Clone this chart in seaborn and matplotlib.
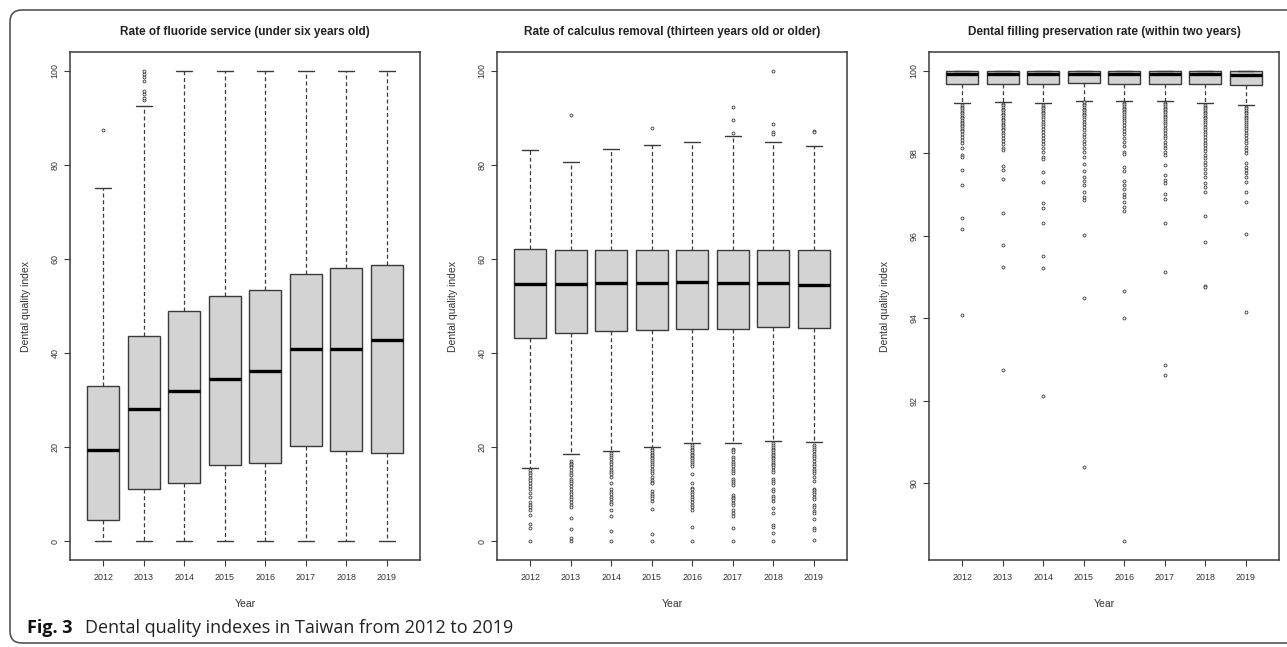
import numpy as np
import pandas as pd
import matplotlib
matplotlib.use("Agg")
import matplotlib.pyplot as plt
import seaborn as sns
from matplotlib.patches import FancyBboxPatch
from matplotlib.transforms import IdentityTransform

# ---------------- data ----------------
years = ["2012", "2013", "2014", "2015", "2016", "2017", "2018", "2019"]

fluoride_title = "Rate of fluoride service (under six years old)"
fluoride_whislo = [0, 0, 0, 0, 0, 0, 0, 0]
fluoride_q1 = [4.6, 11.1, 12.4, 16.2, 16.7, 20.3, 19.1, 18.8]
fluoride_med = [19.3, 28.1, 31.9, 34.5, 36.1, 40.9, 40.9, 42.8]
fluoride_q3 = [33.0, 43.7, 48.9, 52.1, 53.5, 56.8, 58.0, 58.8]
fluoride_whishi = [75.1, 92.6, 100, 100, 100, 100, 100, 100]
fluoride_outliers = [
    [87.5],
    [93.8, 94.3, 95.0, 95.7, 97.9, 98.6, 99.3, 100.0],
    [], [], [], [], [], [],
]

calculus_title = "Rate of calculus removal (thirteen years old or older)"
calculus_whislo = [15.6, 18.6, 19.2, 20.0, 20.8, 20.8, 21.3, 21.0]
calculus_q1 = [43.3, 44.3, 44.7, 45.0, 45.2, 45.2, 45.6, 45.4]
calculus_med = [54.7, 54.6, 54.9, 54.8, 55.1, 54.8, 54.8, 54.5]
calculus_q3 = [62.1, 62.0, 62.0, 62.0, 61.8, 61.8, 62.0, 61.8]
calculus_whishi = [83.1, 80.6, 83.3, 84.2, 84.9, 86.1, 84.9, 84.1]
calculus_outliers = [
    [15.1, 14.6, 14.0, 13.5, 13.0, 12.4, 11.8, 11.2, 10.2, 9.4, 8.3, 7.7, 7.2,
     6.6, 5.5, 3.6, 2.9, 0.0],
    [90.7, 17.1, 16.7, 16.4, 16.0, 15.7, 15.1, 14.5, 14.0, 13.3, 12.8, 12.3,
     11.7, 11.0, 10.5, 10.0, 9.4, 8.9, 8.3, 7.7, 7.2, 5.0, 2.5, 0.6, 0.0],
    [18.8, 18.3, 17.8, 17.4, 16.9, 16.4, 15.8, 15.2, 14.7, 14.2, 13.7, 12.3,
     11.0, 10.5, 10.0, 9.4, 8.9, 8.4, 7.9, 6.6, 5.3, 2.2, 0.0],
    [87.8, 19.7, 19.3, 19.0, 18.6, 18.3, 17.9, 17.6, 17.2, 16.9, 16.5, 15.9,
     15.4, 14.9, 14.4, 13.7, 13.1, 12.6, 12.3, 10.6, 10.1, 9.6, 9.1, 8.6, 6.8,
     1.6, 0.0],
    [20.4, 20.1, 19.7, 19.3, 19.0, 18.6, 18.3, 17.9, 17.6, 17.2, 16.9, 16.5,
     15.9, 14.2, 12.3, 11.4, 11.0, 10.5, 10.0, 9.4, 8.9, 8.4, 7.7, 7.2, 6.7,
     3.0, 0.0],
    [92.3, 89.5, 86.8, 19.7, 19.3, 19.0, 17.9, 17.4, 16.9, 16.5, 15.9, 15.4,
     14.9, 14.5, 13.3, 12.8, 12.4, 11.9, 9.8, 9.4, 9.1, 8.7, 8.1, 7.7, 6.6,
     5.9, 5.3, 2.9, 0.0],
    [100.0, 88.6, 87.0, 86.6, 20.8, 20.4, 20.1, 19.7, 19.3, 19.0, 18.6, 18.3,
     17.9, 17.6, 17.2, 16.9, 16.5, 16.2, 15.7, 15.1, 14.7, 13.3, 12.8, 12.3,
     11.0, 10.7, 9.6, 9.1, 8.6, 7.0, 5.9, 3.4, 3.1, 1.8, 0.0],
    [87.2, 86.9, 20.4, 20.1, 19.7, 19.2, 18.6, 18.1, 17.6, 17.1, 16.5, 15.9,
     15.4, 14.9, 14.4, 13.7, 12.8, 11.2, 10.8, 10.5, 10.0, 9.4, 8.9, 7.7, 7.2,
     6.4, 5.9, 4.8, 2.7, 2.3, 0.2],
]

filling_title = "Dental filling preservation rate (within two years)"
filling_whislo = [99.21, 99.24, 99.21, 99.28, 99.27, 99.27, 99.21, 99.17]
filling_q1 = [99.68, 99.68, 99.68, 99.71, 99.69, 99.69, 99.68, 99.65]
filling_med = [99.93, 99.93, 99.93, 99.93, 99.93, 99.93, 99.93, 99.91]
filling_q3 = [100.0, 100.0, 100.0, 100.0, 100.0, 100.0, 100.0, 100.0]
filling_whishi = [100.0, 100.0, 100.0, 100.0, 100.0, 100.0, 100.0, 100.0]
filling_outliers = [
    [99.17, 99.13, 99.09, 99.05, 99.01, 98.97, 98.93, 98.89, 98.85, 98.81,
     98.77, 98.73, 98.69, 98.65, 98.61, 98.57, 98.53, 98.48, 98.40, 98.32,
     98.24, 98.14, 97.96, 97.92, 97.60, 97.23, 96.43, 96.17, 94.08],
    [99.20, 99.16, 99.12, 99.08, 99.04, 99.00, 98.96, 98.92, 98.88, 98.84,
     98.80, 98.76, 98.72, 98.68, 98.64, 98.60, 98.56, 98.50, 98.44, 98.38,
     98.30, 98.22, 98.14, 98.08, 97.69, 97.59, 97.37, 96.56, 95.78, 95.25,
     92.75],
    [99.17, 99.13, 99.09, 99.05, 99.01, 98.97, 98.93, 98.88, 98.83, 98.77,
     98.72, 98.66, 98.60, 98.52, 98.45, 98.38, 98.30, 98.22, 98.12, 98.02,
     97.92, 97.85, 97.55, 97.31, 96.80, 96.68, 96.30, 95.52, 95.22, 92.12],
    [99.24, 99.20, 99.16, 99.12, 99.08, 99.04, 99.00, 98.96, 98.92, 98.87,
     98.82, 98.76, 98.70, 98.63, 98.56, 98.48, 98.40, 98.31, 98.22, 98.12,
     98.02, 97.92, 97.74, 97.58, 97.43, 97.34, 97.22, 97.07, 96.93, 96.87,
     96.02, 94.49, 90.39],
    [99.23, 99.19, 99.15, 99.11, 99.07, 99.03, 98.99, 98.95, 98.91, 98.86,
     98.81, 98.75, 98.69, 98.62, 98.55, 98.47, 98.38, 98.28, 98.18, 98.04,
     97.98, 97.68, 97.58, 97.33, 97.23, 97.13, 97.02, 96.93, 96.83, 96.71,
     96.59, 94.65, 94.00, 88.61],
    [99.23, 99.19, 99.15, 99.11, 99.07, 99.03, 98.99, 98.95, 98.91, 98.87,
     98.83, 98.78, 98.73, 98.68, 98.62, 98.56, 98.50, 98.43, 98.36, 98.28,
     98.20, 98.12, 98.04, 97.95, 97.72, 97.47, 97.35, 97.27, 97.01, 96.89,
     96.30, 95.13, 92.86, 92.63],
    [99.17, 99.13, 99.09, 99.05, 99.01, 98.97, 98.93, 98.89, 98.85, 98.80,
     98.75, 98.70, 98.64, 98.58, 98.52, 98.46, 98.40, 98.33, 98.26, 98.19,
     98.12, 98.05, 97.97, 97.89, 97.80, 97.71, 97.62, 97.52, 97.42, 97.29,
     97.18, 97.05, 96.47, 95.84, 94.79, 94.76],
    [99.13, 99.09, 99.05, 99.01, 98.97, 98.93, 98.89, 98.85, 98.81, 98.77,
     98.72, 98.67, 98.62, 98.56, 98.50, 98.44, 98.38, 98.31, 98.24, 98.16,
     98.08, 98.00, 97.76, 97.68, 97.60, 97.52, 97.43, 97.31, 97.07, 96.83,
     96.05, 94.15],
]

caption_bold = "Fig. 3"
caption_text = "Dental quality indexes in Taiwan from 2012 to 2019"
x_label = "Year"
y_label = "Dental quality index"

# ---------------- styling ----------------
sns.set_style("ticks")
plt.rcParams["font.family"] = ["Liberation Sans", "DejaVu Sans"]

W, H = 1287, 647
fig = plt.figure(figsize=(W / 100, H / 100), dpi=100)
fig.patch.set_facecolor("white")

EDGE = "#3a3a3a"
TXT = "#333333"


def px_axes(left, right, top, bottom):
    return fig.add_axes([left / W, 1 - bottom / H, (right - left) / W, (bottom - top) / H])


def draw_panel(ax, title, whislo, q1, med, q3, whishi, outliers, ylim, yticks):
    summary = pd.DataFrame({
        "year": np.repeat(years, 5),
        "value": np.column_stack([whislo, q1, med, q3, whishi]).ravel(),
    })
    sns.boxplot(data=summary, x="year", y="value", order=years, whis=(0, 100),
                showfliers=False, width=0.8, color="#d3d3d3", saturation=1,
                linecolor=EDGE, linewidth=1.0,
                medianprops=dict(color="black", linewidth=2.4),
                whiskerprops=dict(linestyle=(0, (3.2, 2.2)), color=EDGE, linewidth=0.9),
                capprops=dict(color=EDGE, linewidth=1.0),
                ax=ax)
    out_df = pd.DataFrame({
        "year": [y for y, vals in zip(years, outliers) for _ in vals],
        "value": [v for vals in outliers for v in vals],
    })
    sns.stripplot(data=out_df, x="year", y="value", order=years, jitter=False,
                  size=2.1, color="white", edgecolor="#3a3a3a", linewidth=0.6,
                  ax=ax, zorder=3)
    ax.set_xlim(-0.82, 7.82)
    ax.set_ylim(*ylim)
    ax.set_yticks(yticks)
    ax.set_yticklabels([f"{t:g}" for t in yticks])
    for lab in ax.get_yticklabels():
        lab.set_rotation(90)
        lab.set_va("center")
    for sp in ax.spines.values():
        sp.set_visible(True)
        sp.set_color(EDGE)
        sp.set_linewidth(1.1)
    ax.tick_params(axis="both", direction="out", length=4.5, width=0.8,
                   colors=EDGE, labelcolor=TXT, labelsize=6.4)
    ax.tick_params(axis="x", pad=5)
    ax.tick_params(axis="y", pad=3)
    ax.set_xlabel(x_label, fontsize=7.5, color=TXT, labelpad=12)
    ax.set_ylabel(y_label, fontsize=7.5, color=TXT, labelpad=14)
    ax.set_title(title, fontsize=8.5, fontweight="bold", color="#222222", pad=12)
    ax.grid(False)


ax1 = px_axes(70, 420, 52, 560)
draw_panel(ax1, fluoride_title, fluoride_whislo, fluoride_q1, fluoride_med,
           fluoride_q3, fluoride_whishi, fluoride_outliers, (-4, 104),
           [0, 20, 40, 60, 80, 100])

ax2 = px_axes(497, 847, 52, 560)
draw_panel(ax2, calculus_title, calculus_whislo, calculus_q1, calculus_med,
           calculus_q3, calculus_whishi, calculus_outliers, (-4, 104),
           [0, 20, 40, 60, 80, 100])

ax3 = px_axes(929, 1279, 52, 560)
draw_panel(ax3, filling_title, filling_whislo, filling_q1, filling_med,
           filling_q3, filling_whishi, filling_outliers, (88.14, 100.456),
           [90, 92, 94, 96, 98, 100])

# outer rounded frame (display pixel coords, origin bottom-left)
frame = FancyBboxPatch((10, 4), 1400, 633, boxstyle="round,pad=0,rounding_size=12",
                       transform=IdentityTransform(), fill=False,
                       edgecolor="#555555", linewidth=1.2)
fig.add_artist(frame)

# caption
cap_font = ["Open Sans", "DejaVu Sans"]
t1 = fig.text(27 / W, 14 / H, caption_bold, fontsize=13, fontweight="bold",
              family=cap_font, va="baseline", ha="left", color="#111111")
renderer = fig.canvas.get_renderer()
bb = t1.get_window_extent(renderer)
fig.text((bb.x1 + 12) / W, 14 / H, caption_text, fontsize=13,
         family=cap_font, va="baseline", ha="left", color="#222222")

fig.savefig("out.png", dpi=100)
